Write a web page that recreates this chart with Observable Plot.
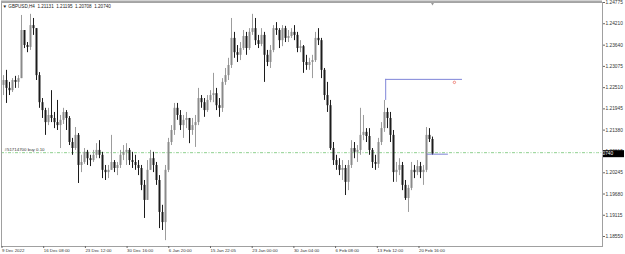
<!DOCTYPE html>
<html><head><meta charset="utf-8">
<script src="https://cdn.jsdelivr.net/npm/d3@7"></script>
<script src="https://cdn.jsdelivr.net/npm/@observablehq/plot@0.6"></script>
<style>html,body{margin:0;padding:0;background:#fff;} #chart svg{display:block;}</style>
</head><body><div id="chart"></div>
<script>
// ---- data (GBPUSD H4) ----
const header = "▼ GBPUSD,H4  1.21131  1.21195  1.20708  1.20740";
const opens = [1.2257,1.2270,1.2249,1.2243,1.2270,1.2265,1.2275,1.2403,1.2363,1.2358,
1.2416,1.2408,1.2283,1.2211,1.2190,1.2158,1.2177,1.2169,1.2158,1.2150,
1.2164,1.2185,1.2169,1.2105,1.2089,1.2124,1.2044,1.2052,1.2079,1.2062,
1.2057,1.2071,1.2084,1.2071,1.2031,1.2025,1.2031,1.2052,1.2036,1.2044,
1.2071,1.2079,1.2084,1.2057,1.2052,1.2044,1.2036,1.1991,1.1951,1.2031,
1.2062,1.2044,1.2004,1.1919,1.1892,1.2031,1.2105,1.2137,1.2196,1.2177,
1.2150,1.2164,1.2169,1.2137,1.2150,1.2158,1.2222,1.2211,1.2190,1.2217,
1.2230,1.2235,1.2203,1.2196,1.2265,1.2283,1.2310,1.2382,1.2344,1.2337,
1.2355,1.2387,1.2355,1.2398,1.2408,1.2376,1.2366,1.2390,1.2337,1.2318,
1.2350,1.2408,1.2403,1.2376,1.2408,1.2382,1.2387,1.2398,1.2390,1.2355,
1.2360,1.2318,1.2310,1.2318,1.2323,1.2382,1.2376,1.2297,1.2230,1.2203,
1.2089,1.2057,1.2044,1.2031,1.2036,1.1999,1.2044,1.2089,1.2079,1.2084,
1.2124,1.2132,1.2121,1.2084,1.2052,1.2047,1.2105,1.2142,1.2185,1.2169,
1.2124,1.2025,1.2031,1.2044,1.1991,1.1956,1.1983,1.2031,1.2025,1.2041,
1.2025,1.2031,1.2124,1.21131];
const highs = [1.2283,1.2297,1.2265,1.2275,1.2281,1.2283,1.2443,1.2403,1.2371,1.2446,
1.2435,1.2408,1.2291,1.2222,1.2196,1.2196,1.2243,1.2185,1.2217,1.2177,
1.2196,1.2190,1.2174,1.2116,1.2145,1.2129,1.2071,1.2089,1.2084,1.2071,
1.2084,1.2102,1.2110,1.2079,1.2044,1.2044,1.2124,1.2057,1.2052,1.2084,
1.2097,1.2102,1.2089,1.2079,1.2071,1.2057,1.2044,1.2004,1.2057,1.2084,
1.2079,1.2052,1.2017,1.1938,1.2044,1.2116,1.2150,1.2209,1.2209,1.2190,
1.2177,1.2185,1.2169,1.2169,1.2177,1.2249,1.2230,1.2222,1.2230,1.2243,
1.2289,1.2249,1.2222,1.2275,1.2302,1.2329,1.2435,1.2398,1.2363,1.2371,
1.2403,1.2398,1.2408,1.2446,1.2435,1.2390,1.2408,1.2398,1.2350,1.2363,
1.2416,1.2424,1.2408,1.2416,1.2414,1.2403,1.2408,1.2416,1.2398,1.2376,
1.2363,1.2337,1.2329,1.2337,1.2398,1.2408,1.2382,1.2302,1.2265,1.2217,
1.2105,1.2071,1.2062,1.2057,1.2044,1.2057,1.2110,1.2105,1.2097,1.2196,
1.2177,1.2142,1.2142,1.2089,1.2071,1.2116,1.2158,1.2217,1.2196,1.2185,
1.2137,1.2052,1.2062,1.2052,1.2004,1.1991,1.2052,1.2044,1.2057,1.2052,
1.2044,1.2145,1.2142,1.21195];
const lows = [1.2230,1.2209,1.2230,1.2238,1.2249,1.2249,1.2275,1.2355,1.2344,1.2350,
1.2390,1.2270,1.2196,1.2169,1.2124,1.2150,1.2158,1.2142,1.2137,1.2089,
1.2153,1.2137,1.2097,1.2071,1.2084,1.1996,1.2025,1.2047,1.2044,1.2041,
1.2052,1.2062,1.2062,1.2009,1.2004,1.2009,1.2031,1.2025,1.2017,1.2036,
1.2057,1.2044,1.2044,1.2036,1.2031,1.2017,1.1977,1.1903,1.1951,1.2031,
1.2025,1.1991,1.1876,1.1871,1.1844,1.2025,1.2097,1.2124,1.2164,1.2137,
1.2116,1.2142,1.2102,1.2124,1.2092,1.2150,1.2196,1.2172,1.2185,1.2211,
1.2211,1.2190,1.2172,1.2185,1.2257,1.2270,1.2302,1.2329,1.2318,1.2323,
1.2350,1.2337,1.2350,1.2390,1.2363,1.2355,1.2360,1.2265,1.2307,1.2302,
1.2344,1.2390,1.2355,1.2360,1.2371,1.2371,1.2382,1.2376,1.2344,1.2344,
1.2289,1.2297,1.2297,1.2275,1.2318,1.2363,1.2275,1.2217,1.2185,1.2084,
1.2044,1.2031,1.2017,1.2004,1.1964,1.1977,1.2036,1.2062,1.2052,1.2071,
1.2110,1.2105,1.2071,1.2036,1.2031,1.2036,1.2097,1.2132,1.2142,1.2105,
1.1999,1.1999,1.2017,1.1977,1.1951,1.1919,1.1977,1.2009,1.2017,1.2009,
1.1991,1.2025,1.2105,1.20708];
const closes = [1.2270,1.2249,1.2243,1.2270,1.2265,1.2275,1.2403,1.2363,1.2358,1.2416,
1.2408,1.2283,1.2211,1.2190,1.2158,1.2177,1.2169,1.2158,1.2150,1.2164,
1.2185,1.2169,1.2105,1.2089,1.2124,1.2044,1.2052,1.2079,1.2062,1.2057,
1.2071,1.2084,1.2071,1.2031,1.2025,1.2031,1.2052,1.2036,1.2044,1.2071,
1.2079,1.2084,1.2057,1.2052,1.2044,1.2036,1.1991,1.1951,1.2031,1.2062,
1.2044,1.2004,1.1919,1.1892,1.2031,1.2105,1.2137,1.2196,1.2177,1.2150,
1.2164,1.2169,1.2137,1.2150,1.2158,1.2222,1.2211,1.2190,1.2217,1.2230,
1.2235,1.2203,1.2196,1.2265,1.2283,1.2310,1.2382,1.2344,1.2337,1.2355,
1.2387,1.2355,1.2398,1.2408,1.2376,1.2366,1.2390,1.2337,1.2318,1.2350,
1.2408,1.2403,1.2376,1.2408,1.2382,1.2387,1.2398,1.2390,1.2355,1.2360,
1.2318,1.2310,1.2318,1.2323,1.2382,1.2376,1.2297,1.2230,1.2203,1.2089,
1.2057,1.2044,1.2031,1.2036,1.1999,1.2044,1.2089,1.2079,1.2084,1.2124,
1.2132,1.2121,1.2084,1.2052,1.2047,1.2105,1.2142,1.2185,1.2169,1.2124,
1.2025,1.2031,1.2044,1.1991,1.1956,1.1983,1.2031,1.2025,1.2041,1.2025,
1.2031,1.2124,1.2113,1.20740];

const timeTicks  = [-0.67, 13.23, 27.13, 41.03, 54.93, 68.83, 82.73, 96.63, 110.53, 124.43, 138.33];
const timeLabels = ["9 Dec 2022","16 Dec 08:00","23 Dec 12:00","30 Dec 16:00","6 Jan 20:00","15 Jan 22:05",
                    "23 Jan 00:00","30 Jan 04:00","6 Feb 08:00","13 Feb 12:00","20 Feb 16:00"];
const priceTicks = [1.24775,1.24210,1.23640,1.23075,1.22510,1.21945,1.21380,1.20815,1.20245,1.19680,1.19115,1.18550];

const bidPrice = 1.20740;
const orderPrice = 1.2078;
const orderLabel = "#51714700 buy 0.10";
const trendBars = [127.4, 153.0];
const trendLevel = 1.2273;
const trendBase = 1.2217;
const bidSegBars = [141.3, 148.3];
const markerBar = 150.3;
const markerPrice = 1.2265;

// ---- build ----
const bars = opens.map((o, i) => ({i, o, h: highs[i], l: lows[i], c: closes[i], up: closes[i] >= o}));
const labelMap = new Map(timeTicks.map((t, k) => [t, timeLabels[k]]));
const W = 625, H = 254, mR = 23;
const bull = "#9c9c9c", bear = "#1c1c1c", blue = "#7f85d8", font = "'Liberation Sans', Arial, sans-serif";

const plot = Plot.plot({
  width: W, height: H,
  marginTop: 2, marginBottom: 8, marginLeft: 1, marginRight: mR,
  x: {domain: [-0.667, 199.667]},
  y: {domain: [1.18284, 1.24775]},
  style: {fontFamily: font, background: "#fff", color: "#222", overflow: "visible"},
  marks: [
    Plot.ruleY([orderPrice], {stroke: "#8fd08f", strokeWidth: 1, strokeDasharray: "3,1.5,1,1.5"}),
    Plot.text([orderLabel], {frameAnchor: "left", y: () => orderPrice, dx: 3, dy: -3.5, textAnchor: "start", fontSize: 4.4, fill: "#333"}),
    Plot.ruleX(bars, {x: "i", y1: "l", y2: "h", stroke: d => d.up ? bull : bear, strokeWidth: 1}),
    Plot.ruleX(bars, {x: "i", y1: "o", y2: "c", stroke: d => d.up ? "#8a8a8a" : bear, strokeWidth: 2}),
    Plot.ruleX([trendBars[0]], {y1: trendBase, y2: trendLevel, stroke: blue}),
    Plot.ruleY([trendLevel], {x1: trendBars[0], x2: trendBars[1], stroke: blue}),
    Plot.ruleY([bidPrice], {x1: bidSegBars[0], x2: bidSegBars[1], stroke: blue}),
    Plot.dot([markerBar], {x: d => d, y: () => markerPrice, r: 1.2, stroke: "#f08a80", strokeWidth: 1}),
    Plot.dot([bars.length - 1], {x: d => d, frameAnchor: "top", symbol: "triangle", rotate: 180, r: 1.6, fill: "#999", dy: 0.5}),
    Plot.text([header], {frameAnchor: "top-left", dx: 1, dy: 2, textAnchor: "start", lineAnchor: "top", fontSize: 4.6, fill: "#222"}),
    Plot.frame({stroke: "#a0a0a0"}),
    Plot.ruleY([1.24775], {stroke: "#a8a8a8", strokeWidth: 2, dy: -1}),
    Plot.axisX({ticks: timeTicks, tickFormat: d => labelMap.get(d), tickSize: 2, tickPadding: 0.5, textAnchor: "start", dx: 0.5, fontSize: 4.4, stroke: "#666", fill: "#333", label: null}),
    Plot.axisY({anchor: "right", ticks: priceTicks, tickFormat: d3.format(".5f"), tickSize: 2, tickPadding: 1, fontSize: 4.8, stroke: "#666", fill: "#333", label: null})
  ]
});

// current-price box on the right axis, placed with the plot's own y scale
const svg = d3.select(plot);
const yb = plot.scale("y").apply(bidPrice);
const g = svg.append("g");
g.append("rect").attr("x", W - mR + 1).attr("y", yb - 3.5).attr("width", 21).attr("height", 7).attr("fill", "#000");
g.append("text").attr("x", W - mR + 2.5).attr("y", yb).attr("dy", "0.35em").attr("fill", "#fff")
  .attr("font-size", 4.8).attr("font-family", font).text(d3.format(".5f")(bidPrice));

document.getElementById("chart").appendChild(plot);
</script></body></html>
